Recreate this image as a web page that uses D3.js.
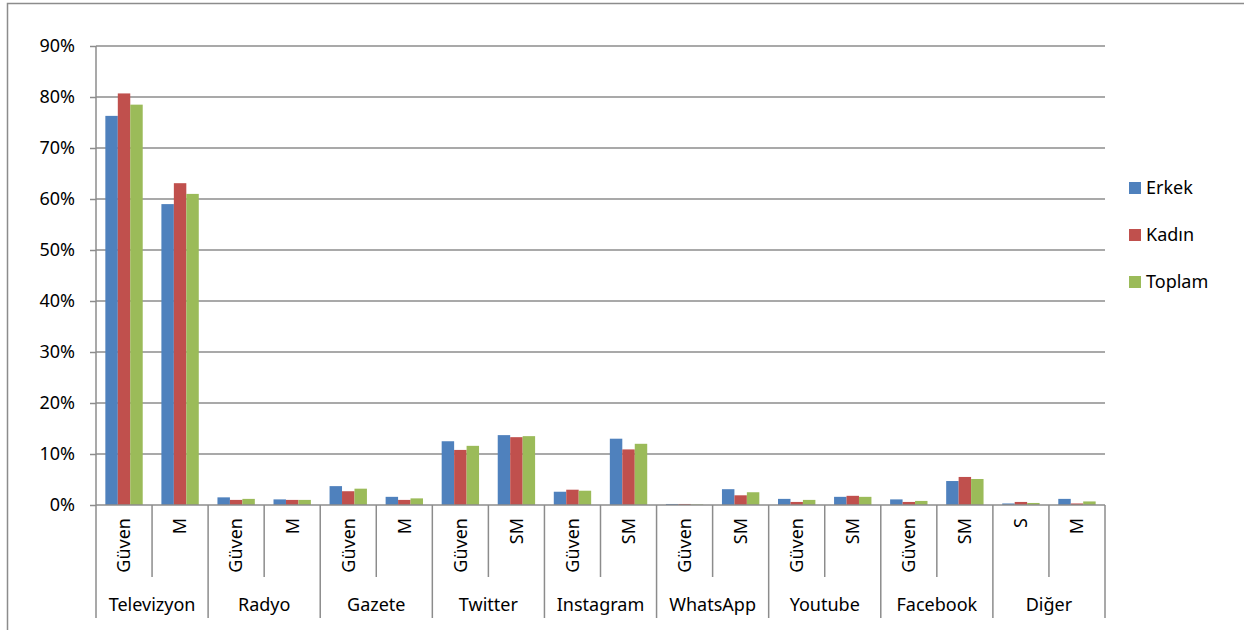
<!DOCTYPE html>
<html lang="tr">
<head>
<meta charset="utf-8">
<title>Erkek / Kadın / Toplam</title>
<script src="https://d3js.org/d3.v7.min.js"></script>
<style>
  body { margin: 0; background: #fff; }
  svg { display: block; font-family: "Noto Sans", "Open Sans", sans-serif; }
  .lbl { font-size: 18px; fill: #000; font-family: "Noto Sans", "Open Sans", sans-serif; }
</style>
</head>
<body>
<svg id="chart" width="1244" height="630"></svg>
<script>
// gruplar ve alt kategoriler
const groups = ["Televizyon", "Radyo", "Gazete", "Twitter", "Instagram", "WhatsApp", "Youtube", "Facebook", "Diğer"];
const subLabels = [["Güven", "M"], ["Güven", "M"], ["Güven", "M"], ["Güven", "SM"], ["Güven", "SM"],
                   ["Güven", "SM"], ["Güven", "SM"], ["Güven", "SM"], ["S", "M"]];
const seriesNames = ["Erkek", "Kadın", "Toplam"];
const seriesColors = ["#4F81BD", "#C0504D", "#9BBB59"];

// değerler (%)
const erkek  = [76.3, 59.0, 1.5, 1.1, 3.7, 1.6, 12.5, 13.7, 2.6, 13.0, 0.2, 3.1, 1.2, 1.6, 1.1, 4.7, 0.3, 1.2];
const kadin  = [80.7, 63.1, 1.0, 1.0, 2.7, 1.0, 10.8, 13.3, 3.0, 10.9, 0.2, 1.9, 0.6, 1.8, 0.6, 5.5, 0.6, 0.3];
const toplam = [78.5, 61.0, 1.2, 1.0, 3.2, 1.3, 11.6, 13.5, 2.8, 12.0, 0.1, 2.5, 1.0, 1.6, 0.8, 5.1, 0.4, 0.7];
const yTicks = [0, 10, 20, 30, 40, 50, 60, 70, 80, 90];

const seriesValues = [erkek, kadin, toplam];
const cats = [];
groups.forEach((g, gi) => subLabels[gi].forEach((s, si) => cats.push({ id: gi + "-" + si, group: g, gi, label: s })));

const svg = d3.select("#chart");
const gridColor = "#8c8c8c";

const plot = { left: 96, right: 1105, top: 46, bottom: 505 };

const x = d3.scaleBand().domain(cats.map(c => c.id)).range([plot.left, plot.right]).paddingInner(0).paddingOuter(0);
const xs = d3.scaleBand().domain(seriesNames).range([0, x.bandwidth()]).paddingInner(0).paddingOuter(0.75);
const y = d3.scaleLinear().domain([0, 90]).range([plot.bottom, plot.top]);

// dış çerçeve
svg.append("path")
  .attr("d", "M7.5,630 V3.5 H1244")
  .attr("fill", "none").attr("stroke", gridColor).attr("stroke-width", 1.5);

// yatay ızgara
svg.append("g").selectAll("line").data(yTicks.filter(t => t > 0)).join("line")
  .attr("x1", plot.left).attr("x2", plot.right)
  .attr("y1", d => y(d)).attr("y2", d => y(d))
  .attr("stroke", gridColor).attr("stroke-width", 1.5);

// y ekseni
const yAxis = svg.append("g")
  .attr("transform", `translate(${plot.left},0)`)
  .call(d3.axisLeft(y).tickValues(yTicks).tickFormat(d => d + "%").tickSize(6).tickPadding(15));
yAxis.attr("font-family", null).attr("font-size", null);
yAxis.select(".domain").remove();
yAxis.selectAll(".tick line").attr("stroke", gridColor).attr("stroke-width", 1.5);
yAxis.selectAll(".tick text").attr("class", "lbl").attr("fill", "#000");

// çubuklar
const barG = svg.append("g");
seriesNames.forEach((name, si) => {
  barG.append("g").selectAll("rect").data(cats).join("rect")
    .attr("x", d => x(d.id) + xs(name))
    .attr("width", xs.bandwidth())
    .attr("y", (d, i) => y(seriesValues[si][i]))
    .attr("height", (d, i) => y(0) - y(seriesValues[si][i]))
    .attr("fill", seriesColors[si]);
});

// eksen çizgileri
svg.append("line")
  .attr("x1", plot.left).attr("x2", plot.left).attr("y1", plot.top).attr("y2", 618)
  .attr("stroke", gridColor).attr("stroke-width", 1.5);
svg.append("line")
  .attr("x1", plot.left).attr("x2", plot.right).attr("y1", plot.bottom).attr("y2", plot.bottom)
  .attr("stroke", gridColor).attr("stroke-width", 1.5);

// kategori ayırıcıları
const bounds = d3.range(1, cats.length + 1);
svg.append("g").selectAll("line").data(bounds).join("line")
  .attr("x1", i => x(cats[i - 1].id) + x.bandwidth())
  .attr("x2", i => x(cats[i - 1].id) + x.bandwidth())
  .attr("y1", plot.bottom)
  .attr("y2", i => (i % 2 === 0 ? 618 : 577))
  .attr("stroke", gridColor).attr("stroke-width", 1.5);

// alt etiketler (dikey)
svg.append("g").selectAll("text").data(cats).join("text")
  .attr("class", "lbl")
  .attr("transform", d => `translate(${x(d.id) + x.bandwidth() / 2},518) rotate(-90)`)
  .attr("text-anchor", "end")
  .attr("dy", "0.35em")
  .text(d => d.label);

// grup etiketleri
svg.append("g").selectAll("text").data(groups).join("text")
  .attr("class", "lbl")
  .attr("x", (g, gi) => x(gi + "-0") + x.bandwidth())
  .attr("y", 611)
  .attr("text-anchor", "middle")
  .text(g => g);

// lejant
const legend = svg.append("g").selectAll("g").data(seriesNames).join("g")
  .attr("transform", (d, i) => `translate(1129,${188 + i * 47})`);
legend.append("rect")
  .attr("x", 0).attr("y", -6).attr("width", 12).attr("height", 12)
  .attr("fill", (d, i) => seriesColors[i]);
legend.append("text")
  .attr("class", "lbl")
  .attr("x", 17).attr("dy", "0.35em")
  .text(d => d);
</script>
</body>
</html>
